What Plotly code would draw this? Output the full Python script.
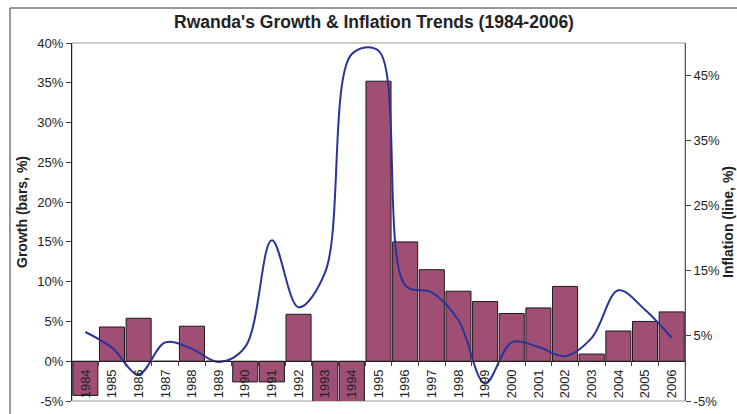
import plotly.graph_objects as go

years = [str(y) for y in range(1984, 2007)]
growth = [-4.3, 4.3, 5.4, 0.0, 4.4, 0.0, -2.6, -2.6, 5.9, -8.0, -50.0, 35.2,
          15.0, 11.5, 8.8, 7.5, 6.0, 6.7, 9.4, 0.9, 3.8, 5.0, 6.2]
inflation = [5.6, 3.2, -0.9, 4.0, 3.0, 1.0, 3.3, 19.7, 9.4, 14.8, 48.3, 48.8,
             12.8, 11.7, 7.4, -2.3, 4.0, 3.3, 1.9, 4.7, 12.0, 9.0, 4.7]
left_ticks = list(range(-5, 41, 5))
right_ticks = list(range(-5, 46, 10))

W, H = 737, 414
L, R, T, B = 72, 685, 43, 401
pw, ph = R - L, B - T


def px(x):
    return (x - L) / pw


def py(y):
    return (B - y) / ph


FONT = "Liberation Sans, Arial, sans-serif"

fig = go.Figure()
fig.add_trace(go.Bar(x=years, y=growth, marker=dict(color="#9E4F73", line=dict(color="#1a1a1a", width=1)),
                     yaxis="y", xaxis="x", showlegend=False))
fig.add_trace(go.Scatter(x=years, y=inflation, mode="lines",
                         line=dict(color="#2B3399", width=2, shape="spline", smoothing=1.0),
                         yaxis="y2", xaxis="x", showlegend=False))

fig.update_layout(
    width=W, height=H,
    margin=dict(l=L, r=W - R, t=T, b=H - B, autoexpand=False),
    paper_bgcolor="white", plot_bgcolor="white",
    bargap=0.06,
    font=dict(family=FONT, size=13, color="#222"),
    xaxis=dict(type="category", anchor="free", position=5 / 45, showgrid=False,
               showline=True, linecolor="#222", linewidth=1,
               ticks="outside", ticklen=4, tickcolor="#444", tickson="boundaries",
               ticklabelstandoff=2,
               tickangle=-90, tickfont=dict(size=13, color="#222"), automargin=False,
               zeroline=False),
    yaxis=dict(range=[-5, 40], tickvals=left_ticks, ticktext=[f"{v}%" for v in left_ticks],
               showgrid=False, zeroline=False, showline=True, linecolor="#222", linewidth=1,
               ticks="outside", ticklen=5, tickcolor="#444", automargin=False,
               tickfont=dict(size=13, color="#222")),
    yaxis2=dict(range=[-5, 50], tickvals=right_ticks, ticktext=[f"{v}%" for v in right_ticks],
                overlaying="y", side="right", showgrid=False, zeroline=False,
                showline=True, linecolor="#555", linewidth=1,
                ticks="outside", ticklen=5, tickcolor="#444", automargin=False,
                tickfont=dict(size=13, color="#222")),
)

shapes = [
    dict(type="rect", xref="paper", yref="paper", x0=0, x1=1, y0=0, y1=1,
         line=dict(color="#999", width=1), layer="below"),
    dict(type="line", xref="paper", yref="paper", x0=px(10), x1=px(10), y0=py(8), y1=py(430),
         line=dict(color="#333", width=1)),
    dict(type="line", xref="paper", yref="paper", x0=px(10), x1=px(745), y0=py(8), y1=py(8),
         line=dict(color="#333", width=1)),
]
fig.update_layout(shapes=shapes)

annotations = [
    dict(text="<b>Rwanda's Growth & Inflation Trends (1984-2006)</b>", xref="paper", yref="paper",
         x=px(374), y=py(22), xanchor="center", yanchor="middle", showarrow=False,
         font=dict(family=FONT, size=17.5, color="#222")),
    dict(text="<b>Growth (bars, %)</b>", xref="paper", yref="paper", x=px(22), y=py(212),
         xanchor="center", yanchor="middle", textangle=-90, showarrow=False,
         font=dict(family=FONT, size=14, color="#222")),
    dict(text="<b>Inflation (line, %)</b>", xref="paper", yref="paper", x=px(728), y=py(222),
         xanchor="center", yanchor="middle", textangle=-90, showarrow=False,
         font=dict(family=FONT, size=14, color="#222")),
]
fig.update_layout(annotations=annotations)

fig.write_html("out.html", config={"displayModeBar": False},
               post_script="document.body.style.margin='0';document.body.style.overflow='hidden';")
